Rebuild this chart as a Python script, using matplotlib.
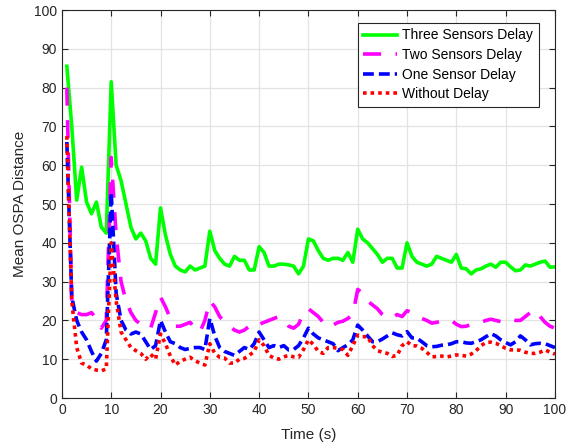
import numpy as np
import matplotlib
matplotlib.use("Agg")
import matplotlib.pyplot as plt

plt.rcParams['font.family'] = ['Liberation Sans', 'DejaVu Sans']

time_s = np.arange(1, 101)

three_sensors = [
    85.5, 70, 51, 59.5, 50.5, 47.5, 50.5, 44, 42.5, 81.5,
    60, 56, 50, 44, 41, 42.5, 40.5, 36, 34.5, 49,
    42, 37, 34, 33, 32.5, 34, 33, 33.5, 34, 43,
    38, 36, 34.5, 34, 36.5, 35.5, 35.5, 33, 33, 39,
    37.5, 34, 34, 34.5, 34.5, 34.3, 34, 32, 34, 41,
    40.5, 38, 36, 35.5, 36, 36, 35.5, 37.5, 35, 43.5,
    41, 40, 38.5, 37, 35, 36, 36, 33.5, 33.5, 40,
    36.5, 35, 34.5, 34, 34.5, 36.5, 36, 35.5, 35, 37,
    33.5, 33.3, 32, 33, 33.3, 34, 34.5, 33.7, 35, 35,
    33.8, 32.8, 33, 34.3, 34, 34.5, 35, 35.3, 33.7, 33.8,
]

two_sensors = [
    80, 24, 22, 21.5, 21.5, 22, 20.5, 18, 20, 62,
    42, 30, 25, 22, 20, 19, 18, 18, 22, 26,
    23.5, 20.5, 18.5, 18.5, 19, 19.5, 18, 17, 20, 25,
    23.5, 21, 19.5, 18.5, 17.5, 17, 17.5, 18.5, 19.5, 19,
    19.5, 20, 20.5, 21, 20, 18.5, 18, 19, 22, 23,
    22, 21, 19.5, 20, 18.8, 19.5, 19.8, 20.5, 21.5, 28,
    27, 25, 24, 23, 21.5, 20.5, 20.8, 21.5, 21, 22.5,
    22, 21, 20.5, 20, 19.3, 19.5, 19.8, 20, 20, 19,
    18.4, 18.5, 19, 19, 19.5, 20, 20.3, 20, 19.7, 19.7,
    20.3, 20, 20, 21, 22, 22.7, 21, 19.5, 18.5, 18,
]

one_sensor = [
    66, 26, 20, 17, 15, 12, 9.5, 11.5, 15, 53,
    27, 20, 17.5, 16.5, 17, 16.5, 14.5, 12.5, 13.5, 20,
    17, 14.5, 14, 13, 12.5, 12.8, 13, 13, 12.5, 20.5,
    16, 13, 12, 11.5, 11, 12, 13, 12.5, 14, 17,
    15, 13, 13.5, 13, 13.5, 12.4, 12.5, 13.5, 15.5, 18,
    16.5, 15.5, 15, 14.5, 14, 12.2, 13, 13.7, 15, 18.8,
    17.5, 16, 14.5, 14.5, 15.2, 16, 16.8, 16.3, 16, 17.1,
    15.5, 15.4, 14.5, 13.5, 13.2, 13.3, 13.6, 13.7, 14, 14.5,
    14.5, 14.2, 14.1, 14.5, 15, 15.8, 16.6, 16, 15, 14.3,
    13.7, 14.5, 16, 15, 13.7, 14, 14.1, 14, 13.5, 13,
]

without_delay = [
    67.5, 25, 13, 9, 8.5, 7.5, 7.2, 7, 7.5, 40,
    25, 17, 15, 13, 12.2, 11.5, 10, 11.3, 10, 16.5,
    14, 10.8, 8.5, 9.5, 10, 10.5, 9.6, 9, 8.5, 14,
    11.5, 10.5, 10.3, 9, 9, 10, 10.2, 11, 12, 15,
    13.5, 11, 10.3, 10, 10.6, 11, 10.6, 10.5, 12.5, 15,
    13.8, 12, 11.5, 13, 13, 12.8, 12.5, 11, 13.5, 16.2,
    15.8, 15.8, 13.5, 12.2, 11.8, 11.5, 10.7, 11, 13.5, 14.5,
    13.5, 13.4, 12.8, 11.8, 10.6, 10.7, 10.8, 10.6, 10.8, 11.1,
    11, 10.8, 11.3, 12.2, 13.5, 14.3, 14.4, 14.1, 13.5, 12.8,
    12.4, 12.4, 12.3, 11.8, 11.5, 11.5, 11.8, 12.4, 11.8, 11.3,
]

fig = plt.figure(figsize=(5.68, 4.48), dpi=100)
ax = fig.add_axes([0.109, 0.1116, 0.868, 0.866])

ax.plot(time_s, three_sensors, color=(0, 1, 0), linewidth=2.6, label='Three Sensors Delay')
ax.plot(time_s, two_sensors, color=(1, 0, 1), linewidth=2.6, dashes=(5, 4), label='Two Sensors Delay')
ax.plot(time_s, one_sensor, color=(0, 0, 1), linewidth=2.6, dashes=(3, 1.4), label='One Sensor Delay')
ax.plot(time_s, without_delay, color=(1, 0, 0), linewidth=2.6, dashes=(1, 1.1), label='Without Delay')

ax.set_xlim(0, 100)
ax.set_ylim(0, 100)
ax.set_xticks(np.arange(0, 101, 10))
ax.set_yticks(np.arange(0, 101, 10))
ax.grid(True, color='#e3e3e3', linewidth=0.9)
ax.set_axisbelow(True)
ax.tick_params(direction='in', top=True, right=True, labelsize=10, length=4, width=0.8, colors='#262626')
for sp in ax.spines.values():
    sp.set_color('#262626')
    sp.set_linewidth(0.8)

ax.set_xlabel('Time (s)', fontsize=11, labelpad=8, color='#262626')
ax.set_ylabel('Mean OSPA Distance', fontsize=11, labelpad=5, color='#262626')

leg = ax.legend(loc='upper right', bbox_to_anchor=(0.967, 0.967), fontsize=10,
                fancybox=False, framealpha=1, edgecolor='#262626', handlelength=2.4,
                handletextpad=0.4, borderpad=0.4, labelspacing=0.4, borderaxespad=0)
leg.get_frame().set_linewidth(0.8)

fig.savefig('out.png', dpi=100)
